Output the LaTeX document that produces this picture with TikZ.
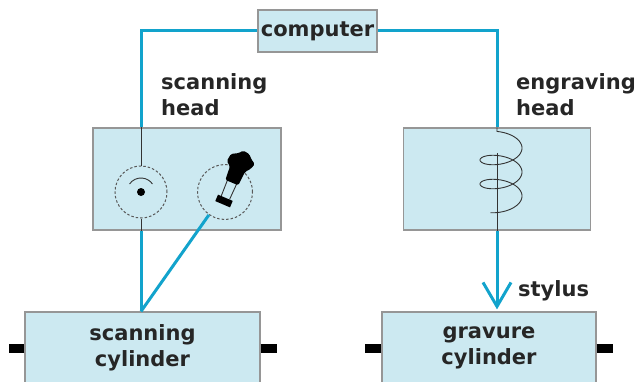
\documentclass[tikz,border=0pt]{standalone}
\usepackage{fontspec}
\setmainfont{DejaVu Sans}
\usetikzlibrary{positioning, arrows.meta}
\definecolor{boxfill}{RGB}{204,233,241}
\definecolor{boxline}{RGB}{150,150,150}
\definecolor{wire}{RGB}{18,163,204}

\begin{document}
\begin{tikzpicture}[x=1pt, y=1pt,
	box/.style={draw=boxline, fill=boxfill, line width=1.2pt, inner sep=0pt},
	txt/.style={font=\fontsize{21}{26}\selectfont\bfseries, text=black!85, align=left, inner sep=0pt},
	signal/.style={draw=wire, line width=3pt},
	fine/.style={line width=0.9pt, black!80},
	ring/.style={circle, draw=black!65, dash pattern=on 2.5pt off 2pt, line width=1pt, inner sep=0pt},
	shaft/.style={line width=9pt, black}]
	\useasboundingbox (0,0) rectangle (636,381);

	\node[box, txt, align=center, minimum width=119pt, minimum height=42pt] (comp) at (317.5,350) {computer};
	\node[box, minimum width=188pt, minimum height=102pt] (scanhead) at (187,202) {};
	\node[box, minimum width=187pt, minimum height=102pt] (engrhead) at (497,202) {};
	\node[box, txt, align=center, minimum width=235pt, minimum height=72pt] (scancyl) at (142.5,33) {scanning\\cylinder};
	\node[box, txt, align=center, minimum width=214pt, minimum height=72pt] (gravcyl) at (489,33) {gravure\\cylinder};

	\draw[shaft] (scancyl.west) -- ++(-15,0) (scancyl.east) -- ++(16,0);
	\draw[shaft] (gravcyl.west) -- ++(-16,0) (gravcyl.east) -- ++(16,0);

	\node[ring, minimum size=52pt] (pickup) at (141,189) {};
	\node[ring, minimum size=55pt] (lamp) at (225,189) {};

	\node[txt, anchor=north west] (scanlbl) at (161,308) {scanning\\head};
	\node[txt, anchor=north west] (engrlbl) at (516,308) {engraving\\head};
	\node[txt, anchor=west] (styluslbl) at (518,90) {stylus};

	% signal path
	\coordinate (feed) at (pickup |- scancyl.north);
	\coordinate (tip) at (engrhead.south |- gravcyl.north);
	\draw[signal] (comp.west) -| (pickup |- scanhead.north);
	\draw[signal] (comp.east) -| (engrhead.north);
	\draw[fine] (pickup |- scanhead.north) -- (pickup.north);
	\draw[fine] (pickup.south) -- (pickup |- scanhead.south);
	\draw[signal] (pickup |- scanhead.south) -- (feed);
	\draw[signal] (lamp) -- (feed);
	\draw[signal, -{Straight Barb[length=24pt, width=28pt]}] (engrhead.south) -- ([yshift=2pt]tip);

	% pickup
	\fill[black] (pickup.center) circle (4pt);
	\draw[fine] (pickup.center) ++(145:14) arc (145:35:14);

	% lamp
	\begin{scope}[shift={(224,180)}, rotate=-23]
		\fill (-8,-3.5) rectangle (8,3.5);
		\draw[fine] (-4.5,3.5) -- (-5,21) (4.5,3.5) -- (5,21);
		\fill[rounded corners=1.5pt] (-7,20) -- (-8,34) -- (-13,38) -- (-12,46) -- (-5,50) -- (-2,54) -- (5,53) -- (9,49) -- (14,46) -- (12,40) -- (8,35) -- (7,20) -- cycle;
	\end{scope}

	% coil
	\draw[fine] (engrhead.north) -- (497,249.5) -- plot[domain=-11:930, samples=240, smooth] ({501+21*sin(\x)},{239-0.0667*\x+10*cos(\x)});
	\draw[fine] (497,228) -- (engrhead.south);
\end{tikzpicture}
\end{document}
